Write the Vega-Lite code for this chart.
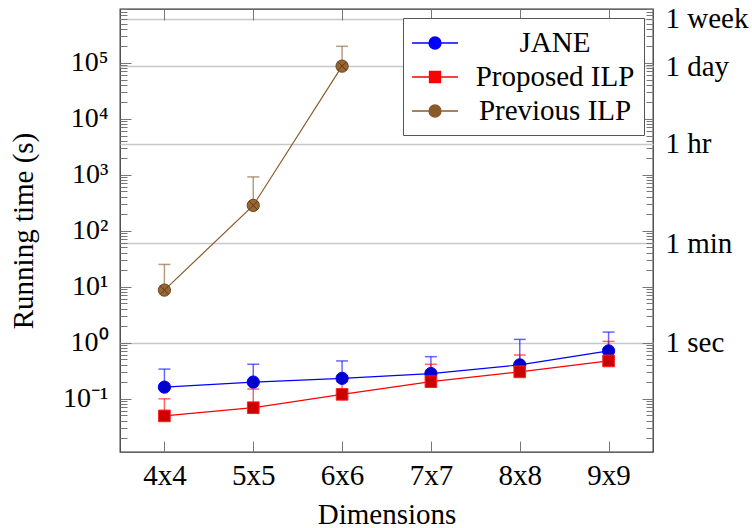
{
  "$schema": "https://vega.github.io/schema/vega-lite/v6.json",
  "width": 533,
  "height": 443,
  "autosize": {"type": "none"},
  "padding": {"left": 120, "top": 9, "right": 99, "bottom": 76},
  "config": {
    "view": {"stroke": "#333", "strokeWidth": 1.3},
    "axis": {
      "domain": false, "grid": false, "tickColor": "#777", "tickWidth": 1,
      "labelColor": "black", "titleColor": "black", "titleFontWeight": "normal",
      "labelOverlap": false, "labelFlush": false
    }
  },
  "datasets": {
    "runs": [
      {"dim": "4x4", "series": "Jane", "mean": 0.16, "upper": 0.336},
      {"dim": "5x5", "series": "Jane", "mean": 0.197, "upper": 0.41},
      {"dim": "6x6", "series": "Jane", "mean": 0.23, "upper": 0.47},
      {"dim": "7x7", "series": "Jane", "mean": 0.28, "upper": 0.56},
      {"dim": "8x8", "series": "Jane", "mean": 0.40, "upper": 1.14},
      {"dim": "9x9", "series": "Jane", "mean": 0.71, "upper": 1.54},
      {"dim": "4x4", "series": "Proposed ILP", "mean": 0.049, "upper": 0.099},
      {"dim": "5x5", "series": "Proposed ILP", "mean": 0.0686, "upper": 0.148},
      {"dim": "6x6", "series": "Proposed ILP", "mean": 0.119, "upper": 0.2},
      {"dim": "7x7", "series": "Proposed ILP", "mean": 0.20, "upper": 0.41},
      {"dim": "8x8", "series": "Proposed ILP", "mean": 0.30, "upper": 0.60},
      {"dim": "9x9", "series": "Proposed ILP", "mean": 0.47, "upper": 1.05},
      {"dim": "4x4", "series": "Previous ILP", "mean": 8.66, "upper": 24.9},
      {"dim": "5x5", "series": "Previous ILP", "mean": 282, "upper": 912},
      {"dim": "6x6", "series": "Previous ILP", "mean": 86700, "upper": 196000}
    ],
    "frame": [{"dim": "4x4", "v": 1}]
  },
  "layer": [
    {
      "data": {"name": "runs"},
      "encoding": {
        "x": {
          "field": "dim", "type": "ordinal",
          "scale": {"type": "point", "padding": 0.5, "domain": ["4x4", "5x5", "6x6", "7x7", "8x8", "9x9"]},
          "axis": {"orient": "bottom", "title": "Dimensions", "titleFont": "Liberation Serif", "titleFontSize": 29, "titlePadding": 10, "labelFont": "Liberation Serif", "labelFontSize": 29, "labelPadding": 20, "tickSize": -11, "labelAngle": 0}
        }
      },
      "layer": [
        {
          "mark": {"type": "rule", "strokeWidth": 1.5, "opacity": 0.6},
          "encoding": {
            "y": {"field": "mean", "type": "quantitative", "scale": {"type": "log", "domain": [0.0111, 910000], "nice": false}},
            "y2": {"field": "upper"},
            "color": {"field": "series", "type": "nominal", "scale": {"domain": ["Jane", "Proposed ILP", "Previous ILP"], "range": ["#0000ff", "#ff0000", "#8b5a2b"]}}
          }
        },
        {
          "mark": {"type": "tick", "thickness": 1.5, "size": 12, "opacity": 0.6},
          "encoding": {
            "y": {"field": "upper", "type": "quantitative"},
            "color": {"field": "series", "type": "nominal"}
          }
        },
        {
          "mark": {"type": "line", "strokeWidth": 1.2},
          "encoding": {
            "y": {
              "field": "mean", "type": "quantitative",
              "axis": {
                "orient": "left", "title": "Running time (s)", "titleFont": "Liberation Serif", "titleFontSize": 29, "titlePadding": 24,
                "labelFont": "Liberation Serif", "labelFontSize": 28, "labelPadding": 23,
                "values": [0.02,0.03,0.04,0.05,0.06,0.07,0.08,0.09,0.1,0.2,0.3,0.4,0.5,0.6,0.7,0.8,0.9,1,2,3,4,5,6,7,8,9,10,20,30,40,50,60,70,80,90,100,200,300,400,500,600,700,800,900,1000,2000,3000,4000,5000,6000,7000,8000,9000,10000,20000,30000,40000,50000,60000,70000,80000,90000,100000,200000,300000,400000,500000,600000,700000,800000,900000],
                "labelExpr": "datum.value == 0.1 ? '10⁻¹' : datum.value == 1 ? '10⁰' : datum.value == 10 ? '10¹' : datum.value == 100 ? '10²' : datum.value == 1000 ? '10³' : datum.value == 10000 ? '10⁴' : datum.value == 100000 ? '10⁵' : ''",
                "tickSize": {"condition": {"test": "abs(log(datum.value)/LN10 - round(log(datum.value)/LN10)) < 0.001", "value": -11}, "value": -7}
              }
            },
            "color": {
              "field": "series", "type": "nominal",
              "legend": {
                "orient": "none", "legendX": 283, "legendY": 9, "title": null,
                "strokeColor": "#555", "fillColor": "white", "padding": 9,
                "symbolSize": 900, "symbolOffset": 7, "symbolStrokeWidth": 1.3,
                "labelFont": "Liberation Serif",
                "labelFontSize": 29, "labelLimit": 300, "labelAlign": "center", "labelOffset": 104,
                "labelColor": "black", "rowPadding": 3,
                "labelExpr": "datum.label == 'Jane' ? 'JANE' : datum.label",
                "encode": {
                  "symbols": {
                    "update": {
                      "shape": {"signal": "datum.value == 'Jane' ? 'M-1.533,0H-0.4M0.4,0H1.533M-0.4,0A0.4,0.4 0 1,1 0.4,0A0.4,0.4 0 1,1 -0.4,0Z' : datum.value == 'Proposed ILP' ? 'M-1.533,0H-0.367M0.367,0H1.533M-0.367,-0.367H0.367V0.367H-0.367Z' : 'M-1.533,0H-0.4M0.4,0H1.533M-0.4,0A0.4,0.4 0 1,1 0.4,0A0.4,0.4 0 1,1 -0.4,0ZM-0.28,-0.28L0.28,0.28M-0.28,0.28L0.28,-0.28'"},
                      "fill": {"signal": "datum.value == 'Jane' ? '#0000cc' : datum.value == 'Proposed ILP' ? '#cc0000' : '#996633'"},
                      "stroke": {"signal": "datum.value == 'Jane' ? '#0000ff' : datum.value == 'Proposed ILP' ? '#ff0000' : '#7a4f26'"},
                      "strokeWidth": {"value": 1.3},
                      "opacity": {"value": 1}
                    }
                  }
                }
              }
            }
          }
        },
        {
          "transform": [{"filter": "datum.series == 'Jane'"}],
          "mark": {"type": "point", "shape": "circle", "filled": true, "fill": "#0000cc", "stroke": "#0000ff", "opacity": 1, "strokeWidth": 1, "size": 150},
          "encoding": {"y": {"field": "mean", "type": "quantitative"}}
        },
        {
          "transform": [{"filter": "datum.series == 'Proposed ILP'"}],
          "mark": {"type": "point", "shape": "square", "filled": true, "fill": "#cc0000", "stroke": "#ff2222", "opacity": 1, "strokeWidth": 1, "size": 136},
          "encoding": {"y": {"field": "mean", "type": "quantitative"}}
        },
        {
          "transform": [{"filter": "datum.series == 'Previous ILP'"}],
          "mark": {"type": "point", "shape": "circle", "filled": true, "fill": "#996633", "stroke": "#6b4420", "opacity": 1, "strokeWidth": 1, "size": 150},
          "encoding": {"y": {"field": "mean", "type": "quantitative"}}
        },
        {
          "transform": [{"filter": "datum.series == 'Previous ILP'"}],
          "mark": {"type": "point", "shape": "M-0.7,-0.7L0.7,0.7M-0.7,0.7L0.7,-0.7", "filled": false, "stroke": "#5a3a1a", "strokeWidth": 1, "size": 150, "opacity": 1},
          "encoding": {"y": {"field": "mean", "type": "quantitative"}}
        }
      ]
    },
    {
      "data": {"name": "frame"},
      "mark": {"type": "point", "opacity": 0},
      "encoding": {
        "x": {
          "field": "dim", "type": "ordinal",
          "scale": {"type": "point", "padding": 0.5, "domain": ["4x4", "5x5", "6x6", "7x7", "8x8", "9x9"]},
          "axis": {"orient": "top", "labels": false, "tickSize": -11, "title": null}
        },
        "y": {
          "field": "v", "type": "quantitative",
          "scale": {"type": "log", "domain": [0.0111, 910000], "nice": false},
          "axis": {
            "orient": "right", "title": null, "labelFont": "Liberation Serif", "labelFontSize": 29,
            "values": [0.02,0.03,0.04,0.05,0.06,0.07,0.08,0.09,0.1,0.2,0.3,0.4,0.5,0.6,0.7,0.8,0.9,1,2,3,4,5,6,7,8,9,10,20,30,40,50,60,70,80,90,100,200,300,400,500,600,700,800,900,1000,2000,3000,3600,4000,5000,6000,7000,8000,9000,10000,20000,30000,40000,50000,60000,70000,80000,86400,90000,100000,200000,300000,400000,500000,600000,604800,700000,800000,900000],
            "labelExpr": "datum.value == 1 ? '1 sec' : datum.value == 60 ? '1 min' : datum.value == 3600 ? '1 hr' : datum.value == 86400 ? '1 day' : datum.value == 604800 ? '1 week' : ''",
            "tickSize": {"condition": [{"test": "abs(log(datum.value)/LN10 - round(log(datum.value)/LN10)) < 0.001", "value": -11}, {"test": "indexof([3600,86400,604800], datum.value) >= 0", "value": 0}], "value": -7},
            "labelPadding": {"condition": [{"test": "datum.value == 1", "value": 23}, {"test": "datum.value == 60", "value": 19}], "value": 12},
            "grid": true, "gridColor": "#c8c8c8", "gridWidth": 1.5,
            "gridOpacity": {"condition": {"test": "indexof([1,60,3600,86400,604800], datum.value) >= 0", "value": 1}, "value": 0}
          }
        }
      }
    }
  ],
  "resolve": {"scale": {"x": "independent", "y": "independent"}}
}
